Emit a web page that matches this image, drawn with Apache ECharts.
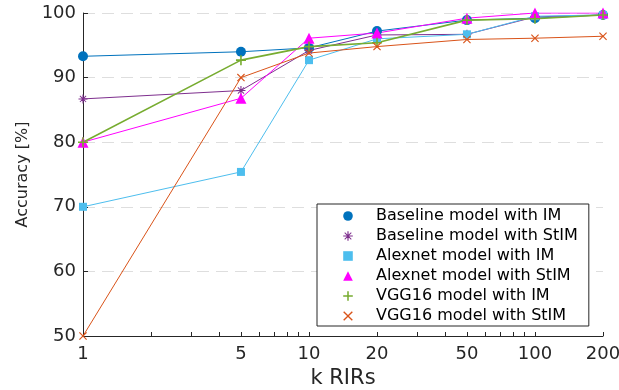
<!DOCTYPE html>
<html>
<head>
<meta charset="utf-8">
<script src="https://cdn.jsdelivr.net/npm/echarts@6/dist/echarts.min.js"></script>
<style>
html,body{margin:0;padding:0;background:#fff;}
#chart{width:619px;height:390px;}
</style>
</head>
<body>
<div id="chart"></div>
<script>
var kRIRs = [1, 5, 10, 20, 50, 100, 200];
var seriesNames = [
  'Baseline model with IM',
  'Baseline model with StIM',
  'Alexnet model with IM',
  'Alexnet model with StIM',
  'VGG16 model with IM',
  'VGG16 model with StIM'
];
var baselineIM   = [93.3, 94.0, 94.6, 97.2, 98.9, 99.2, 99.7];
var baselineStIM = [86.7, 88.0, 94.2, 96.6, 96.7, 99.4, 99.7];
var alexnetIM    = [70.0, 75.4, 92.7, 96.0, 96.7, 99.5, 99.7];
var alexnetStIM  = [80.0, 86.8, 96.1, 96.9, 99.2, 100.0, 100.0];
var vggIM        = [80.0, 92.7, 94.8, 95.4, 98.9, 99.1, 99.7];
var vggStIM      = [50.0, 90.0, 93.8, 94.8, 95.9, 96.1, 96.4];

var xLabelValues = [1, 5, 10, 20, 50, 100, 200];
var xTickValues = [1, 2, 3, 4, 5, 6, 7, 8, 9, 10, 20, 30, 40, 50, 60, 70, 80, 90, 100, 200];

var PLUS = 'path://M-0.8,-5L0.8,-5L0.8,-0.8L5,-0.8L5,0.8L0.8,0.8L0.8,5L-0.8,5L-0.8,0.8L-5,0.8L-5,-0.8L-0.8,-0.8Z';
var CROSS = 'path://M-5,-4L-4,-5L0,-1L4,-5L5,-4L1,0L5,4L4,5L0,1L-4,5L-5,4L-1,0Z';
var STAR = 'path://M-0.6,-5L0.6,-5L0.6,-0.6L5,-0.6L5,0.6L0.6,0.6L0.6,5L-0.6,5L-0.6,0.6L-5,0.6L-5,-0.6L-0.6,-0.6Z' +
           'M-3.8,-3.1L-3.1,-3.8L0,-0.7L3.1,-3.8L3.8,-3.1L0.7,0L3.8,3.1L3.1,3.8L0,0.7L-3.1,3.8L-3.8,3.1L-0.7,0Z';

function pairs(ys) { return kRIRs.map(function (x, i) { return [x, ys[i]]; }); }

var FONT = 'DejaVu Sans';
var AXC = '#262626';

var defs = [
  { data: baselineIM,   color: '#0072BD', symbol: 'circle',   size: 10, width: 1 },
  { data: baselineStIM, color: '#7E2F8E', symbol: STAR,       size: 9,  width: 1 },
  { data: alexnetIM,    color: '#4DBEEE', symbol: 'rect',     size: 8,  width: 1 },
  { data: alexnetStIM,  color: '#FF00FF', symbol: 'triangle', size: 11, width: 1 },
  { data: vggIM,        color: '#77AC30', symbol: PLUS,       size: 10, width: 1.6 },
  { data: vggStIM,      color: '#D95319', symbol: CROSS,      size: 8,  width: 1 }
];

var series = defs.map(function (d, i) {
  return {
    name: seriesNames[i],
    type: 'line',
    data: pairs(d.data),
    symbol: d.symbol,
    symbolSize: d.size,
    showAllSymbol: true,
    itemStyle: { color: d.color },
    lineStyle: { color: d.color, width: d.width },
    emphasis: { disabled: true }
  };
});

var chart = echarts.init(document.getElementById('chart'), null, { renderer: 'canvas' });
chart.setOption({
  animation: false,
  backgroundColor: '#fff',
  grid: { left: 83, right: 16, top: 13, bottom: 54, containLabel: false, outerBoundsMode: 'none' },
  xAxis: {
    type: 'log',
    logBase: 10,
    min: 1,
    max: 200,
    name: 'k RIRs',
    nameLocation: 'middle',
    nameGap: 31,
    nameTextStyle: { fontFamily: FONT, fontSize: 21, color: AXC },
    axisLine: { show: true, lineStyle: { color: AXC, width: 1 } },
    axisTick: { show: true, inside: true, length: 4, customValues: xTickValues, lineStyle: { color: AXC } },
    axisLabel: {
      customValues: xLabelValues,
      margin: 9,
      fontFamily: FONT, fontSize: 18, color: AXC,
      formatter: function (v) { return String(Math.round(v)); }
    },
    splitLine: { show: false },
    minorTick: { show: false },
    minorSplitLine: { show: false }
  },
  yAxis: {
    type: 'value',
    min: 50,
    max: 100,
    interval: 10,
    name: 'Accuracy [%]',
    nameLocation: 'middle',
    nameGap: 48,
    nameTextStyle: { fontFamily: FONT, fontSize: 16, color: AXC },
    axisLine: { show: true, lineStyle: { color: AXC, width: 1 } },
    axisTick: { show: true, inside: true, length: 5, lineStyle: { color: AXC } },
    axisLabel: { margin: 7, fontFamily: FONT, fontSize: 18, color: AXC },
    splitLine: { show: true, lineStyle: { color: '#dedede', width: 1, type: [12, 7] } }
  },
  legend: {
    orient: 'vertical',
    left: 317,
    top: 204,
    padding: [2, 11, 0, 7],
    itemWidth: 46,
    itemHeight: 12,
    itemGap: 0,
    backgroundColor: '#fff',
    borderColor: AXC,
    borderWidth: 1,
    borderRadius: 0,
    selectedMode: false,
    lineStyle: { opacity: 0 },
    textStyle: { fontFamily: FONT, fontSize: 16, color: '#000', lineHeight: 20 },
    data: seriesNames
  },
  series: series
});
</script>
</body>
</html>
